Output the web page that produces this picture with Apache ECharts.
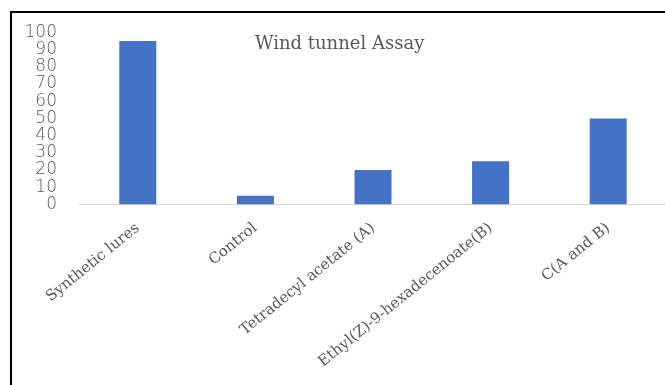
<!DOCTYPE html>
<html>
<head>
<meta charset="utf-8">
<script src="https://cdn.jsdelivr.net/npm/echarts@6/dist/echarts.min.js"></script>
<style>
html,body{margin:0;padding:0;background:#fff;}
#chart{width:665px;height:385px;}
</style>
</head>
<body>
<div id="chart"></div>
<script>
var titleText = 'Wind tunnel Assay';
var categories = ['Synthetic lures', 'Control', 'Tetradecyl acetate (A)', 'Ethyl(Z)-9-hexadecenoate(B)', 'C(A and B)'];
var values = [95, 5, 20, 25, 50];
var yTicks = [0, 10, 20, 30, 40, 50, 60, 70, 80, 90, 100];

var chart = echarts.init(document.getElementById('chart'), null, {renderer: 'canvas'});
chart.setOption({
  animation: false,
  backgroundColor: '#ffffff',
  title: {
    text: titleText,
    left: 255,
    top: 35,
    padding: 0,
    textStyle: {fontFamily: 'DejaVu Serif', fontSize: 18, fontWeight: 'normal', color: '#595959'}
  },
  graphic: [{
    type: 'rect',
    silent: true,
    shape: {x: 11, y: 12, width: 720, height: 420},
    style: {fill: 'none', stroke: '#000000', lineWidth: 2}
  }],
  grid: {left: 79, right: -2, top: 32.5, bottom: 180.7, containLabel: false, outerBoundsMode: 'none'},
  xAxis: {
    type: 'category',
    data: categories,
    axisLine: {show: true, lineStyle: {color: '#d9d9d9', width: 1}},
    axisTick: {show: false},
    axisLabel: {
      rotate: 39,
      interval: 0,
      margin: 22,
      hideOverlap: false,
      color: '#595959',
      fontFamily: 'DejaVu Serif',
      fontSize: 15
    }
  },
  yAxis: {
    type: 'value',
    min: yTicks[0],
    max: yTicks[yTicks.length - 1],
    interval: 10,
    axisLine: {show: false},
    axisTick: {show: false},
    splitLine: {show: false},
    axisLabel: {
      margin: 22,
      showMinLabel: true,
      showMaxLabel: true,
      hideOverlap: false,
      color: '#595959',
      fontFamily: 'DejaVu Sans',
      fontWeight: 200,
      fontSize: 17
    }
  },
  series: [{
    type: 'bar',
    data: values,
    barWidth: 37,
    itemStyle: {color: '#4472C4'}
  }]
});
</script>
</body>
</html>
